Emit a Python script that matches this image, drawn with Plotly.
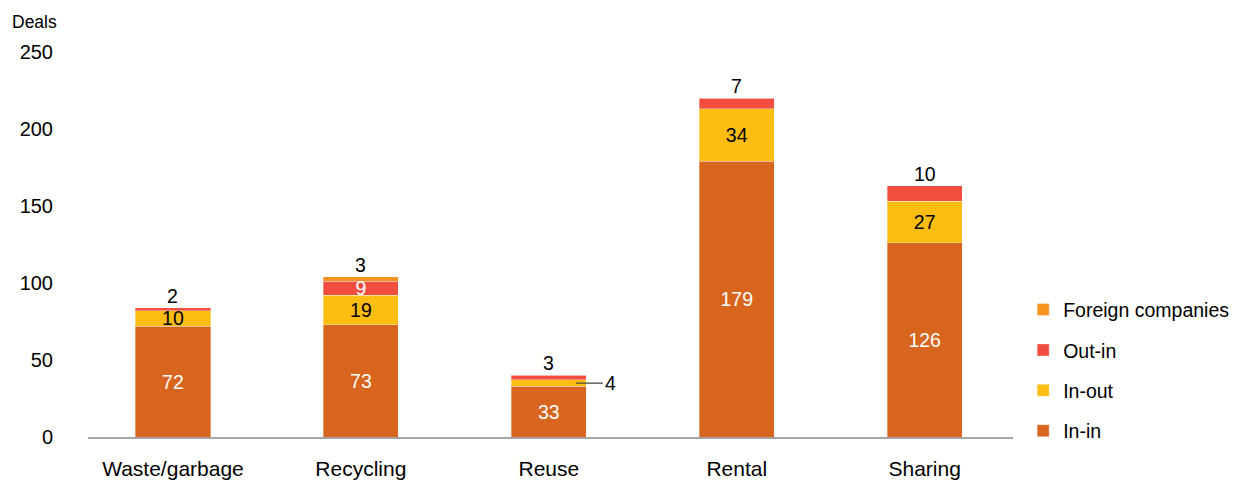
import plotly.graph_objects as go

categories = ["Waste/garbage", "Recycling", "Reuse", "Rental", "Sharing"]
in_in = [72, 73, 33, 179, 126]
in_out = [10, 19, 4, 34, 27]
out_in = [2, 9, 3, 7, 10]
foreign = [0, 3, 0, 0, 0]
y_ticks = [0, 50, 100, 150, 200, 250]

series_names = ["In-in", "In-out", "Out-in", "Foreign companies"]
series_values = [in_in, in_out, out_in, foreign]
colors = ["#D8651E", "#FDBD11", "#F24E40", "#F7921E"]
text_colors = ["white", "black", "white", "black"]

FONT = "Liberation Sans, Arial, sans-serif"
FS = 19.5

fig = go.Figure()
n = len(categories)
top_idx = []
for i in range(n):
    t = 0
    for k, vals in enumerate(series_values):
        if vals[i] > 0:
            t = k
    top_idx.append(t)

# segments too thin for an inside label get a leader-line callout instead
callout = {(2, 1)}

for k, (name, vals) in enumerate(zip(series_names, series_values)):
    texts = []
    for i in range(n):
        if vals[i] == 0 or (k >= 2 and top_idx[i] == k) or (i, k) in callout:
            texts.append("")
        else:
            texts.append(str(vals[i]))
    fig.add_trace(go.Bar(
        x=categories, y=vals, name=name,
        marker=dict(color=colors[k], line=dict(color="rgba(255,255,255,0.35)", width=1)),
        text=texts, textposition="inside", insidetextanchor="middle",
        textangle=0, constraintext="none",
        textfont=dict(color=text_colors[k], size=FS, family=FONT),
        hoverinfo="skip", legendgroup=name, legendrank=len(series_names) - k, width=0.4,
    ))

annotations = []
for i in range(n):
    k = top_idx[i]
    if k >= 2:
        total = sum(series_values[j][i] for j in range(len(series_values)))
        annotations.append(dict(x=i, y=total, xref="x", yref="y", text=str(series_values[k][i]),
                                showarrow=False, yanchor="middle", yshift=12,
                                font=dict(size=FS, color="black", family=FONT)))
for (i, k) in callout:
    base = sum(series_values[j][i] for j in range(k))
    annotations.append(dict(x=i + 0.144, y=base + series_values[k][i] / 2, xref="x", yref="y",
                            text=str(series_values[k][i]), showarrow=True, arrowhead=0,
                            arrowwidth=1.2, arrowcolor="#444444", ax=27, ay=0,
                            xanchor="left", font=dict(size=FS, color="black", family=FONT)))
annotations.append(dict(x=-0.084, y=1.0, xref="paper", yref="paper", text="Deals", showarrow=False,
                        xanchor="left", yanchor="middle", yshift=-1,
                        font=dict(size=17.5, color="black", family=FONT)))

fig.update_layout(
    barmode="stack",
    width=1239, height=480,
    margin=dict(l=88, r=226, t=21, b=43, autoexpand=False),
    plot_bgcolor="white", paper_bgcolor="white",
    font=dict(family=FONT, size=FS, color="black"),
    annotations=annotations,
    legend=dict(traceorder="grouped", tracegroupgap=12, x=1.011, xanchor="left",
                y=0.16, yanchor="middle", font=dict(size=FS, family=FONT)),
    xaxis=dict(range=[-0.452, 4.47], showline=True, linecolor="#A6A6A6", linewidth=1.5,
               ticks="", showgrid=False, ticklabelstandoff=12, zeroline=False,
               automargin=False, tickfont=dict(size=21, family=FONT)),
    yaxis=dict(range=[0, 270], tickvals=y_ticks, showgrid=False, zeroline=False,
               showline=False, ticks="", ticklabelstandoff=34, automargin=False,
               tickfont=dict(size=20, family=FONT)),
    showlegend=True,
)

fig.write_html("out.html")
